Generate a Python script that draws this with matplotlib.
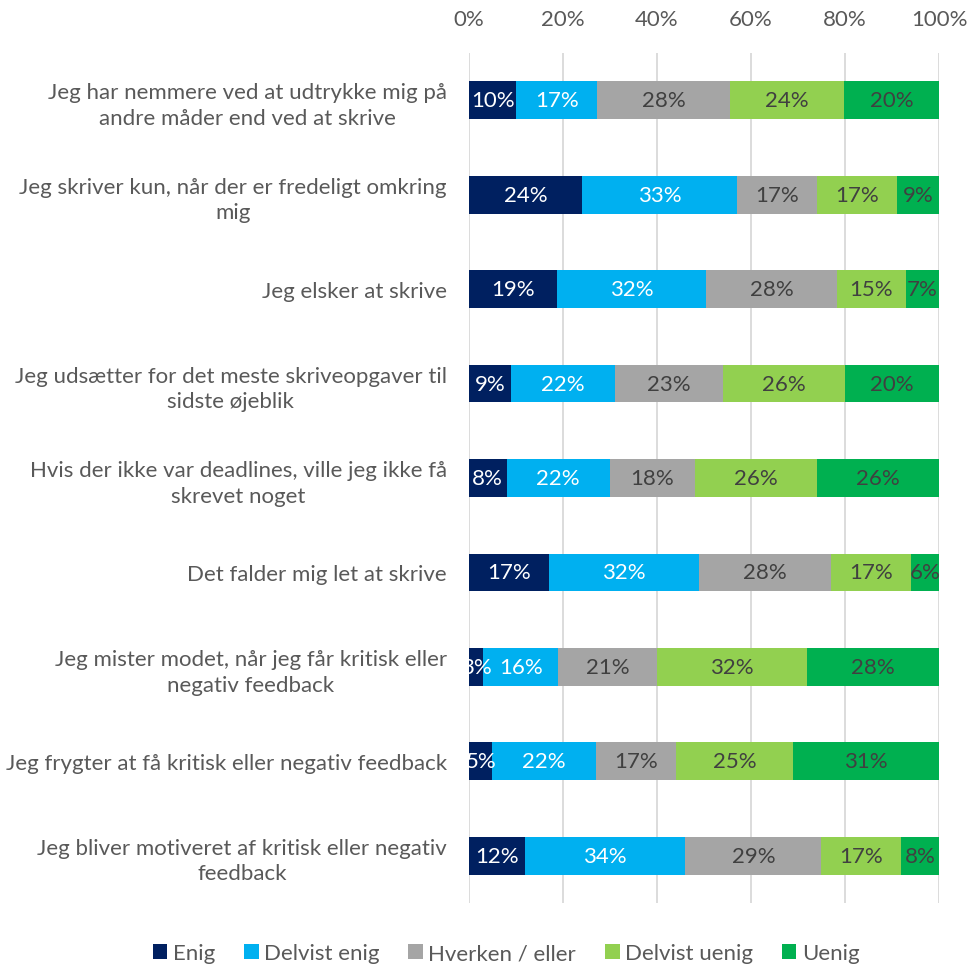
"""
Stacked 100% bar chart of writing attitudes
"""
import numpy as np
import matplotlib.pyplot as plt
from matplotlib.ticker import PercentFormatter

plt.rcParams["font.family"] = ["Lato", "DejaVu Sans"]

statements = [
    "Jeg har nemmere ved at udtrykke mig på\nandre måder end ved at skrive",
    "Jeg skriver kun, når der er fredeligt omkring\nmig",
    "Jeg elsker at skrive",
    "Jeg udsætter for det meste skriveopgaver til\nsidste øjeblik",
    "Hvis der ikke var deadlines, ville jeg ikke få\nskrevet noget",
    "Det falder mig let at skrive",
    "Jeg mister modet, når jeg får kritisk eller\nnegativ feedback",
    "Jeg frygter at få kritisk eller negativ feedback",
    "Jeg bliver motiveret af kritisk eller negativ\nfeedback",
]
answers = ["Enig", "Delvist enig", "Hverken / eller", "Delvist uenig", "Uenig"]

enig = [10, 24, 19, 9, 8, 17, 3, 5, 12]
delvist_enig = [17, 33, 32, 22, 22, 32, 16, 22, 34]
hverken = [28, 17, 28, 23, 18, 28, 21, 17, 29]
delvist_uenig = [24, 17, 15, 26, 26, 17, 32, 25, 17]
uenig = [20, 9, 7, 20, 26, 6, 28, 31, 8]

colors = ["#002060", "#00B0F0", "#A5A5A5", "#92D050", "#00B050"]
label_colors = ["white", "white", "#404040", "#404040", "#404040"]


def main() -> None:
    vals = np.array([enig, delvist_enig, hverken, delvist_uenig, uenig], dtype=float)
    shares = vals / vals.sum(axis=0) * 100  # 100% stacked like Excel

    fig = plt.figure(figsize=(9.68, 9.70), dpi=100)
    ax = fig.add_axes([0.4845, 0.068, 0.4855, 0.8763])

    y = np.arange(len(statements))
    left = np.zeros(len(statements))
    handles = []
    for i, name in enumerate(answers):
        bars = ax.barh(y, shares[i], left=left, height=0.4, color=colors[i],
                       label=name, zorder=3)
        handles.append(bars)
        for j, rect in enumerate(bars):
            ax.text(left[j] + shares[i][j] / 2, y[j], f"{int(vals[i][j])}%",
                    ha="center", va="center", fontsize=16,
                    color=label_colors[i], zorder=4)
        left += shares[i]

    ax.set_xlim(0, 100)
    ax.set_ylim(len(statements) - 0.5, -0.5)
    ax.set_xticks(np.arange(0, 101, 20))
    ax.xaxis.set_major_formatter(PercentFormatter(decimals=0))
    ax.xaxis.tick_top()
    ax.tick_params(axis="x", length=0, pad=17, labelsize=16, labelcolor="#595959")
    ax.set_yticks(y)
    ax.set_yticklabels(statements, multialignment="center", linespacing=1.35)
    ax.tick_params(axis="y", length=0, pad=16, labelsize=16, labelcolor="#595959")
    ax.grid(axis="x", color="#D9D9D9", linewidth=1.3, zorder=0)
    for s in ax.spines.values():
        s.set_visible(False)

    fig.legend(handles, answers, loc="center", bbox_to_anchor=(0.523, 0.016),
               ncol=5, frameon=False, fontsize=16, labelcolor="#595959",
               handlelength=0.65, handleheight=0.65, handletextpad=0.25,
               columnspacing=1.3)

    fig.savefig("out.png")


if __name__ == "__main__":
    main()
